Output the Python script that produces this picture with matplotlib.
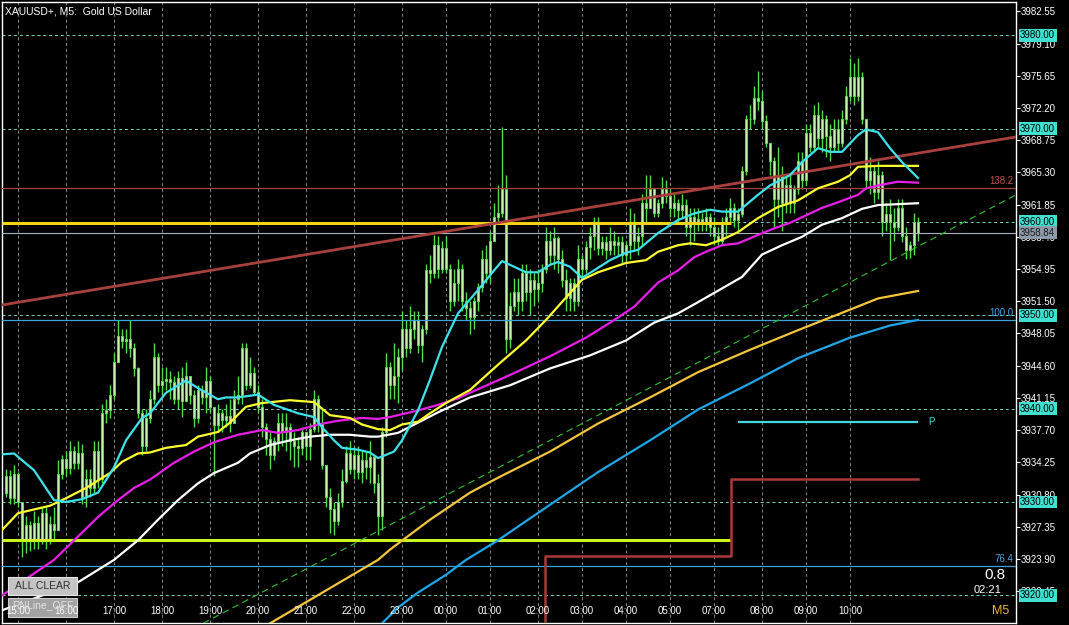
import matplotlib
matplotlib.use("Agg")
import matplotlib.pyplot as plt
from matplotlib.patches import Rectangle
from matplotlib.transforms import blended_transform_factory

plt.rcParams['font.family'] = ['Liberation Sans', 'DejaVu Sans']

# --- candles (one per M5 bar, bar 0 = first visible bar) ---
first_open = 3931.0
closes = [3932.8, 3930.4, 3933.0, 3930.0, 3926.0, 3927.5, 3925.8, 3927.8, 3926.0, 3928.8,
          3925.8, 3927.6, 3927.0, 3933.0, 3934.6, 3933.6, 3935.5, 3934.2, 3935.2, 3930.5,
          3932.5, 3931.5, 3935.5, 3932.5, 3939.5, 3939.8, 3941.5, 3945.0, 3947.8, 3947.2,
          3947.5, 3946.5, 3944.3, 3939.5, 3936.0, 3939.0, 3941.0, 3945.5, 3942.5, 3943.0,
          3943.2, 3942.8, 3941.0, 3943.3, 3940.8, 3943.5, 3941.5, 3939.0, 3942.0, 3941.2,
          3943.0, 3940.2, 3938.2, 3939.5, 3938.8, 3939.2, 3938.5, 3941.0, 3941.5, 3946.5,
          3942.5, 3943.8, 3941.8, 3940.2, 3938.0, 3936.8, 3935.0, 3936.5, 3938.5, 3937.5,
          3938.0, 3936.5, 3936.0, 3935.8, 3937.5, 3936.0, 3937.8, 3941.0, 3938.5, 3934.0,
          3930.5, 3929.3, 3928.0, 3930.0, 3932.2, 3935.3, 3933.5, 3935.0, 3933.2, 3934.5,
          3933.8, 3934.8, 3932.0, 3928.5, 3937.5, 3944.5, 3942.5, 3943.5, 3945.5, 3948.5,
          3946.5, 3948.5, 3949.5, 3946.8, 3948.5, 3954.8, 3954.5, 3957.5, 3955.0, 3957.2,
          3955.0, 3951.5, 3953.5, 3955.0, 3951.5, 3950.8, 3949.8, 3951.5, 3953.0, 3956.0,
          3954.5, 3958.0, 3960.5, 3961.0, 3963.5, 3947.5, 3951.0, 3952.5, 3951.5, 3954.5,
          3952.5, 3953.8, 3952.8, 3953.5, 3955.0, 3958.0, 3956.5, 3958.3, 3956.0, 3953.8,
          3951.8, 3953.5, 3951.5, 3956.0, 3955.0, 3957.3, 3958.5, 3960.0, 3957.2, 3957.8,
          3957.0, 3958.0, 3957.5, 3957.8, 3956.5, 3957.5, 3960.0, 3958.0, 3958.5, 3962.0,
          3961.5, 3963.5, 3961.0, 3962.0, 3963.5, 3962.8, 3961.5, 3962.0, 3961.3, 3961.8,
          3959.5, 3960.5, 3960.0, 3960.3, 3960.0, 3960.5, 3959.5, 3958.5, 3958.0, 3959.8,
          3960.5, 3961.5, 3960.2, 3960.8, 3965.5, 3971.0, 3971.0, 3973.3, 3973.0, 3970.8,
          3968.5, 3966.5, 3962.5, 3965.0, 3962.0, 3964.0, 3962.0, 3963.5, 3966.5, 3964.5,
          3969.5, 3968.0, 3971.5, 3969.0, 3971.0, 3969.2, 3968.0, 3970.0, 3968.5, 3971.0,
          3973.5, 3975.5, 3973.5, 3975.5, 3971.0, 3964.5, 3965.5, 3963.2, 3965.0, 3960.0,
          3960.8, 3960.0, 3959.5, 3961.5, 3958.5, 3957.0, 3957.5, 3960.0, 3958.84]
highs = [3933.5, 3933.4, 3934.0, 3933.2, 3929.5, 3928.5, 3928.0, 3929.0, 3928.5, 3929.5,
         3929.5, 3928.5, 3929.5, 3934.5, 3935.0, 3935.5, 3936.5, 3936.0, 3936.5, 3936.2,
         3933.5, 3933.5, 3936.5, 3936.5, 3940.5, 3941.0, 3942.5, 3946.0, 3949.5, 3948.5,
         3948.5, 3949.5, 3947.0, 3944.5, 3940.0, 3940.0, 3942.0, 3947.0, 3946.0, 3944.5,
         3944.5, 3944.0, 3943.5, 3944.0, 3944.5, 3945.0, 3943.5, 3942.0, 3942.5, 3942.5,
         3944.5, 3943.5, 3940.0, 3940.5, 3940.0, 3940.5, 3941.0, 3942.0, 3943.5, 3947.0,
         3947.0, 3945.5, 3944.5, 3942.5, 3941.0, 3938.5, 3937.5, 3937.0, 3939.5, 3939.5,
         3939.5, 3938.5, 3937.5, 3937.0, 3938.0, 3937.5, 3938.5, 3942.0, 3941.5, 3940.0,
         3934.0, 3931.5, 3930.0, 3931.0, 3933.5, 3936.0, 3936.5, 3936.0, 3936.0, 3935.5,
         3935.5, 3936.5, 3935.0, 3933.0, 3938.0, 3946.0, 3945.0, 3947.0, 3946.5, 3950.5,
         3949.5, 3951.0, 3950.5, 3950.5, 3949.0, 3955.5, 3956.5, 3958.6, 3958.5, 3958.0,
         3958.5, 3955.5, 3955.0, 3956.0, 3955.5, 3952.5, 3951.5, 3952.0, 3953.5, 3957.0,
         3957.5, 3959.0, 3962.0, 3964.0, 3970.2, 3965.0, 3952.5, 3954.0, 3954.0, 3955.5,
         3955.5, 3955.0, 3954.5, 3955.0, 3955.5, 3959.5, 3959.0, 3959.5, 3958.5, 3957.0,
         3955.0, 3954.0, 3954.0, 3957.5, 3956.5, 3958.0, 3959.5, 3960.5, 3960.5, 3958.5,
         3958.5, 3959.5, 3959.0, 3958.5, 3958.5, 3958.0, 3961.5, 3961.0, 3959.5, 3963.0,
         3965.0, 3965.0, 3963.5, 3962.5, 3964.8, 3964.5, 3963.5, 3963.0, 3962.5, 3963.0,
         3962.5, 3961.5, 3961.5, 3961.5, 3961.0, 3961.5, 3961.0, 3960.5, 3959.5, 3960.5,
         3961.5, 3962.6, 3962.0, 3961.5, 3966.0, 3971.5, 3972.5, 3974.5, 3976.2, 3974.0,
         3971.5, 3968.5, 3967.0, 3968.0, 3966.0, 3965.0, 3965.0, 3964.0, 3967.5, 3967.5,
         3970.5, 3970.5, 3972.5, 3972.8, 3972.0, 3971.5, 3970.5, 3971.0, 3971.0, 3972.0,
         3974.5, 3977.5, 3977.0, 3977.6, 3976.0, 3971.0, 3967.0, 3966.0, 3966.5, 3965.5,
         3962.0, 3962.5, 3961.5, 3962.5, 3962.5, 3959.5, 3958.0, 3961.0, 3960.5]
lows = [3930.5, 3929.8, 3929.8, 3929.5, 3924.1, 3924.5, 3924.8, 3925.0, 3925.0, 3925.5,
        3925.0, 3925.5, 3926.0, 3927.0, 3932.5, 3932.8, 3933.0, 3933.5, 3933.5, 3929.8,
        3929.5, 3930.5, 3931.0, 3931.5, 3932.0, 3938.5, 3939.0, 3941.0, 3945.0, 3946.5,
        3946.0, 3945.5, 3943.5, 3939.0, 3935.0, 3935.5, 3938.5, 3940.5, 3941.8, 3941.5,
        3942.0, 3941.0, 3940.5, 3940.0, 3939.1, 3942.5, 3940.5, 3938.0, 3938.5, 3940.5,
        3939.5, 3939.5, 3932.8, 3937.5, 3937.5, 3938.0, 3937.5, 3939.0, 3940.5, 3940.5,
        3942.0, 3942.2, 3941.5, 3939.5, 3937.0, 3935.0, 3933.5, 3934.5, 3935.5, 3936.0,
        3935.5, 3934.5, 3933.7, 3933.8, 3935.0, 3934.5, 3934.5, 3937.5, 3937.5, 3933.5,
        3929.5, 3926.7, 3926.5, 3927.5, 3929.5, 3932.0, 3933.0, 3932.5, 3932.5, 3932.0,
        3932.5, 3932.0, 3931.0, 3926.5, 3927.0, 3937.0, 3941.0, 3941.0, 3940.6, 3944.0,
        3945.5, 3946.0, 3947.5, 3946.0, 3945.0, 3948.0, 3953.5, 3954.0, 3954.0, 3954.5,
        3954.5, 3950.5, 3951.0, 3951.5, 3950.5, 3949.5, 3948.0, 3948.5, 3950.5, 3952.5,
        3953.5, 3953.5, 3958.0, 3960.0, 3960.5, 3946.0, 3946.5, 3950.5, 3950.0, 3950.5,
        3951.5, 3950.0, 3951.0, 3951.5, 3952.5, 3954.5, 3955.5, 3955.0, 3954.5, 3953.0,
        3950.5, 3950.5, 3950.5, 3951.0, 3954.0, 3954.5, 3956.0, 3957.0, 3956.5, 3956.5,
        3956.0, 3956.5, 3956.5, 3956.5, 3955.5, 3955.5, 3956.0, 3957.0, 3956.5, 3957.5,
        3960.0, 3961.5, 3960.5, 3960.5, 3961.5, 3962.0, 3960.5, 3960.5, 3960.0, 3960.5,
        3958.5, 3957.5, 3958.0, 3959.0, 3959.0, 3959.0, 3958.5, 3957.5, 3957.5, 3957.5,
        3958.5, 3960.0, 3959.5, 3959.0, 3960.5, 3965.0, 3970.0, 3970.5, 3972.0, 3970.0,
        3968.0, 3965.0, 3959.4, 3960.5, 3959.0, 3961.0, 3961.0, 3961.0, 3963.0, 3963.5,
        3964.0, 3967.5, 3967.5, 3968.0, 3967.5, 3967.0, 3966.5, 3967.5, 3967.5, 3968.0,
        3970.5, 3973.0, 3972.5, 3973.0, 3970.5, 3963.5, 3963.0, 3962.0, 3962.5, 3958.5,
        3959.0, 3955.9, 3958.0, 3959.0, 3957.8, 3956.0, 3956.1, 3956.5, 3958.0]
opens = [first_open] + closes[:-1]

# --- moving averages (bar index, price) ---
ma_cyan_bars = [-1, 2, 7, 12, 15, 19, 23, 27, 30, 34, 36, 40, 45, 48, 53, 55, 58, 63, 67, 73,
                77, 79, 82, 84, 88, 91, 93, 97, 99, 103, 106, 109, 113, 118, 122, 124, 127, 130,
                133, 136, 138, 141, 144, 147, 151, 155, 158, 163, 168, 172, 176, 179, 183, 188,
                191, 196, 199, 203, 206, 209, 213, 215, 218, 221, 224, 228]
ma_cyan = [3935.1, 3935.2, 3933.4, 3930.2, 3930.0, 3930.3, 3931.0, 3933.7, 3936.6, 3939.0,
           3939.5, 3941.7, 3943.0, 3942.2, 3941.0, 3941.2, 3941.2, 3941.5, 3940.4, 3939.5,
           3939.1, 3938.0, 3936.6, 3935.8, 3935.6, 3935.3, 3934.7, 3935.4, 3936.6, 3939.8,
           3943.1, 3946.6, 3950.2, 3952.7, 3954.8, 3955.8, 3955.2, 3954.6, 3954.6, 3955.4,
           3955.7, 3955.2, 3954.0, 3954.8, 3955.9, 3956.7, 3957.0, 3958.8, 3960.2, 3960.9,
           3961.3, 3961.1, 3961.1, 3962.9, 3963.9, 3965.0, 3966.4, 3967.9, 3967.5, 3967.5,
           3969.3, 3969.9, 3969.6, 3967.9, 3966.4, 3964.7]

ma_yellow_bars = [-1, 3, 7, 11, 15, 20, 26, 29, 33, 36, 40, 45, 48, 53, 56, 60, 64, 71, 77, 81,
                  86, 89, 93, 96, 99, 103, 106, 110, 116, 123, 130, 135, 140, 144, 148, 155,
                  160, 163, 168, 171, 175, 179, 183, 188, 193, 198, 203, 208, 211, 213, 218,
                  223, 228]
ma_yellow = [3927.0, 3928.8, 3929.2, 3929.6, 3930.4, 3931.5, 3933.1, 3934.3, 3935.2, 3935.3,
             3935.8, 3936.1, 3937.0, 3937.5, 3938.5, 3940.2, 3940.6, 3940.9, 3940.7, 3939.3,
             3939.0, 3938.3, 3937.8, 3937.7, 3938.3, 3938.6, 3939.5, 3940.6, 3942.0, 3944.7,
             3947.3, 3949.5, 3951.9, 3953.8, 3954.6, 3955.6, 3955.9, 3956.8, 3957.5, 3957.7,
             3957.5, 3958.1, 3958.9, 3960.4, 3961.6, 3962.3, 3963.6, 3964.3, 3965.0, 3965.9,
             3966.0, 3966.0, 3966.0]

ma_magenta_bars = [-1, 12, 18, 23, 28, 32, 36, 42, 47, 52, 58, 64, 68, 73, 78, 83, 89, 93, 96,
                   103, 108, 113, 116, 126, 136, 145, 151, 157, 163, 168, 172, 175, 179, 183,
                   188, 192, 196, 200, 204, 208, 213, 215, 218, 223, 228]
ma_magenta = [3920.0, 3923.8, 3926.3, 3928.4, 3930.2, 3931.5, 3932.4, 3934.2, 3935.4, 3936.4,
              3937.2, 3937.7, 3937.4, 3937.7, 3938.3, 3938.7, 3939.0, 3938.9, 3939.1, 3939.8,
              3940.4, 3941.1, 3941.7, 3943.6, 3945.6, 3947.6, 3949.2, 3950.9, 3953.5, 3954.8,
              3956.2, 3956.8, 3957.5, 3957.7, 3958.6, 3959.3, 3959.9, 3960.7, 3961.5, 3962.1,
              3962.9, 3963.6, 3963.9, 3964.3, 3964.2]

ma_white_bars = [-1, 18, 27, 33, 38, 43, 48, 52, 58, 61, 66, 71, 76, 81, 86, 91, 93, 98, 103,
                 108, 113, 116, 126, 136, 146, 155, 162, 168, 173, 184, 189, 194, 199, 204, 209,
                 214, 218, 223, 228]
ma_white = [3918.4, 3921.4, 3923.8, 3925.9, 3928.1, 3930.2, 3932.0, 3933.1, 3934.2, 3935.2,
            3936.1, 3936.6, 3937.0, 3937.2, 3937.2, 3937.0, 3937.0, 3937.4, 3938.5, 3939.6,
            3940.6, 3941.2, 3942.5, 3944.3, 3945.7, 3947.3, 3949.2, 3950.2, 3951.4, 3954.1,
            3956.5, 3957.5, 3958.4, 3959.7, 3960.4, 3961.4, 3961.8, 3961.9, 3962.0]

ma_orange_bars = [66, 93, 96, 106, 116, 123, 136, 148, 161, 173, 186, 198, 211, 218, 228]
ma_orange = [3917.0, 3923.8, 3924.9, 3928.1, 3931.0, 3932.6, 3935.4, 3938.4, 3941.2, 3943.9,
             3946.3, 3948.4, 3950.6, 3951.8, 3952.6]

ma_blue_bars = [94, 98, 103, 110, 115, 123, 136, 148, 161, 173, 186, 198, 211, 221, 228]
ma_blue = [3917.0, 3918.7, 3920.3, 3922.2, 3923.8, 3925.9, 3929.7, 3933.2, 3936.6, 3939.9,
           3942.7, 3945.4, 3947.6, 3948.9, 3949.5]

# --- axis labels ---
hour_labels = ['15:00', '16:00', '17:00', '18:00', '19:00', '20:00', '21:00', '22:00', '23:00',
               '00:00', '01:00', '02:00', '03:00', '04:00', '05:00', '07:00', '08:00', '09:00',
               '10:00']
hour_bars = [3, 15, 27, 39, 51, 63, 75, 87, 99, 110, 121, 133, 144, 155, 166, 177, 189, 200, 211]
price_ticks = [3982.55, 3979.10, 3975.65, 3972.20, 3968.75, 3965.30, 3961.85, 3958.40, 3954.95,
               3951.50, 3948.05, 3944.60, 3941.15, 3937.70, 3934.25, 3930.80, 3927.35, 3923.90,
               3920.45]
round_levels = [3980, 3970, 3960, 3950, 3940, 3930, 3920]
last_price = 3958.84

# --- drawn objects ---
fib_levels = [3963.6, 3949.5, 3923.1]
fib_labels = ['138.2', '100.0', '76.4']
yellow_level = 3959.85
lime_level = 3925.9
level_end_bar = 181.25
step_bars = [134.75, 134.75, 181.25, 228]
step_prices = [3905.0, 3924.2, 3932.5, 3932.5]
pivot_level = 3938.6
pivot_bars = [183, 228]
trend_red_bars = [-1, 252.5]
trend_red = [3951.1, 3969.1]
trend_green_bars = [49.25, 252.5]
trend_green = [3917.0, 3962.9]

W, H = 1069, 625
fig = plt.figure(figsize=(W / 100, H / 100), dpi=100, facecolor='black')
ax = fig.add_axes([2 / W, 2 / H, 1014 / W, 621 / H], facecolor='black')
ax.set_xlim(-1, 252.5)
ax.set_ylim(3917.04, 3983.55)
for s in ax.spines.values():
    s.set_color('white')
    s.set_linewidth(1)
ax.set_xticks([])
ax.yaxis.tick_right()
ax.set_yticks(price_ticks)
ax.set_yticklabels(['%.2f' % v for v in price_ticks])
ax.tick_params(axis='y', colors='white', labelsize=7, length=2.6, width=0.8, pad=1)

bt = blended_transform_factory(ax.transData, ax.transAxes)
yt = blended_transform_factory(ax.transAxes, ax.transData)

# grid
for b in hour_bars:
    ax.axvline(b, color='#8a8a8a', lw=0.7, ls=(0, (3, 3)), zorder=1)
for lv in round_levels:
    ax.axhline(lv, color='#78d8c8', lw=0.7, ls=(0, (3, 3)), zorder=1)

# candles
n = len(closes)
xs = list(range(n))
bottoms = [min(o, c) for o, c in zip(opens, closes)]
heights = [max(abs(c - o), 0.07) for o, c in zip(opens, closes)]
ax.vlines(xs, lows, highs, color='#55dc4c', lw=1.0, zorder=3)
ax.bar(xs, heights, bottom=bottoms, width=0.7, facecolor='#c8f6b0', edgecolor='#55dc4c',
       linewidth=0.75, zorder=3.5)

# objects
ax.hlines(yellow_level, -1, level_end_bar, color='#f2d414', lw=2.2, zorder=4)
ax.hlines(lime_level, -1, level_end_bar, color='#c8f51e', lw=2.2, zorder=4)
ax.axhline(last_price, color='#a9b2c0', lw=0.8, zorder=4)
ax.axhline(fib_levels[0], color='#a8403c', lw=0.9, zorder=4)
ax.axhline(fib_levels[1], color='#3ea2dc', lw=0.9, zorder=4)
ax.axhline(fib_levels[2], color='#3ea2dc', lw=0.9, zorder=4)
ax.plot(trend_red_bars, trend_red, color='#a8403e', lw=2.0, zorder=4)
ax.plot(trend_green_bars, trend_green, color='#2ec22e', lw=0.8, ls=(0, (6, 4)), zorder=4)
ax.plot(step_bars, step_prices, color='#a83a38', lw=1.8, drawstyle='steps-post', zorder=4)
ax.hlines(pivot_level, pivot_bars[0], pivot_bars[1], color='#40d8e0', lw=1.6, zorder=4)
ax.text(pivot_bars[1] + 2.5, pivot_level, 'P', color='#40d8e0', fontsize=7, va='center', zorder=6)

# moving averages
ax.plot(ma_blue_bars, ma_blue, color='#1ea6e6', lw=1.6, zorder=5)
ax.plot(ma_orange_bars, ma_orange, color='#f5c63a', lw=1.6, zorder=5)
ax.plot(ma_white_bars, ma_white, color='white', lw=1.6, zorder=5)
ax.plot(ma_magenta_bars, ma_magenta, color='#e81ee8', lw=1.6, zorder=5)
ax.plot(ma_yellow_bars, ma_yellow, color='#ffff30', lw=1.6, zorder=5)
ax.plot(ma_cyan_bars, ma_cyan, color='#3ee2ea', lw=1.6, zorder=5)

# fib labels
fib_colors = ['#c0504c', '#4aa8e0', '#4aa8e0']
for lv, lab, c in zip(fib_levels, fib_labels, fib_colors):
    ax.text(0.997, lv + 0.25, lab, transform=yt, ha='right', va='bottom', color=c, fontsize=7,
            zorder=6)

# price boxes on the scale
for lv in round_levels:
    ax.annotate('%.2f' % lv, xy=(1, lv), xycoords=yt, xytext=(3, 0), textcoords='offset points',
                ha='left', va='center', fontsize=7, color='black', annotation_clip=False,
                bbox=dict(boxstyle='square,pad=0.15', fc='#40e0d0', ec='none'), zorder=10)
ax.annotate('%.2f' % last_price, xy=(1, last_price), xycoords=yt, xytext=(3, 0),
            textcoords='offset points', ha='left', va='center', fontsize=7, color='#1a1a1a',
            annotation_clip=False, bbox=dict(boxstyle='square,pad=0.15', fc='#8e9aa8', ec='none'),
            zorder=10)

# title
ax.text(0.003, 0.992, 'XAUUSD+, M5:  Gold US Dollar', transform=ax.transAxes, ha='left', va='top',
        color='white', fontsize=7.5, zorder=8)

# buttons
ax.add_patch(Rectangle((8 / W, 1 - 595 / H), 69 / W, 18 / H, transform=fig.transFigure,
                       fc='#c4c4c4', ec='#e6e6e6', lw=0.8, clip_on=False, zorder=7))
ax.add_patch(Rectangle((8 / W, 1 - 617 / H), 69 / W, 19 / H, transform=fig.transFigure,
                       fc='#a2a2a2', ec='#cfcfcf', lw=0.8, clip_on=False, zorder=7))
ax.text(42.5 / W, 1 - 586 / H, 'ALL CLEAR', transform=fig.transFigure, ha='center', va='center',
        fontsize=7.5, color='#303030', zorder=7.5)
ax.text(42.5 / W, 1 - 605 / H, 'RNLine_OFF', transform=fig.transFigure, ha='center', va='center',
        fontsize=7.5, color='#e4e4e4', zorder=8.5)

# time labels inside the chart
for b, lab in zip(hour_bars, hour_labels):
    ax.text(b, 0.019, lab, transform=bt, ha='center', va='center', color='white', fontsize=7,
            zorder=8)

# info texts bottom right
fig.text(995 / W, 1 - 575 / H, '0.8', ha='center', va='center', color='white', fontsize=11)
fig.text(988 / W, 1 - 590 / H, '02:21', ha='center', va='center', color='white', fontsize=8)
fig.text(1001 / W, 1 - 611 / H, 'M5', ha='center', va='center', color='#e6b830', fontsize=9)

fig.savefig('out.png', dpi=100, facecolor='black')
